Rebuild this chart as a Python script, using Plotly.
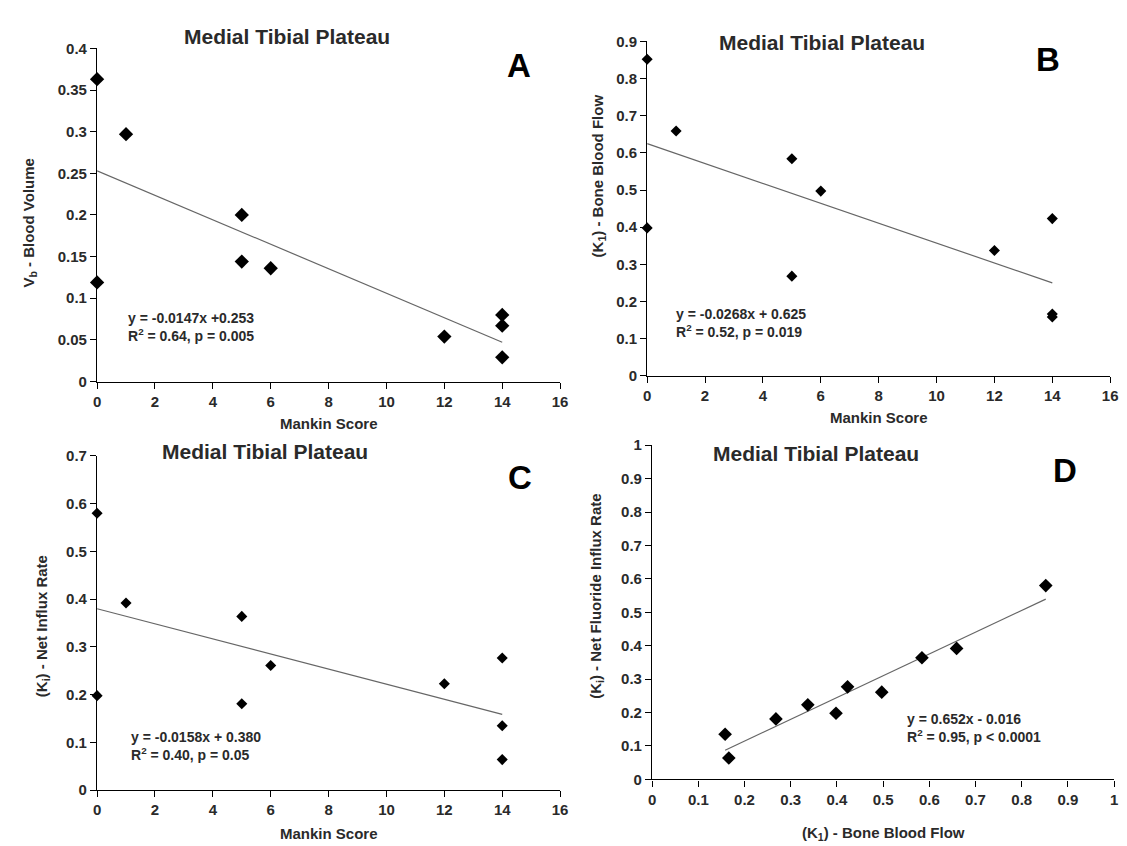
import plotly.graph_objects as go

# ---- data ----
mankin = [0, 0, 1, 5, 5, 6, 12, 14, 14, 14]
vb = [0.363, 0.119, 0.297, 0.200, 0.144, 0.136, 0.054, 0.080, 0.067, 0.029]
k1 = [0.852, 0.398, 0.659, 0.584, 0.268, 0.497, 0.337, 0.423, 0.158, 0.166]
ki = [0.580, 0.198, 0.392, 0.364, 0.181, 0.261, 0.223, 0.277, 0.135, 0.064]

fit_a = (-0.0147, 0.253)
fit_b = (-0.0268, 0.625)
fit_c = (-0.0158, 0.380)
fit_d = (0.652, -0.016)

eq_a = "y = -0.0147x +0.253<br>R<sup>2</sup> = 0.64, p = 0.005"
eq_b = "y = -0.0268x + 0.625<br>R<sup>2</sup> = 0.52, p = 0.019"
eq_c = "y = -0.0158x + 0.380<br>R<sup>2</sup> = 0.40, p = 0.05"
eq_d = "y = 0.652x - 0.016<br>R<sup>2</sup> = 0.95, p < 0.0001"

panel_title = "Medial Tibial Plateau"
ytitles = ["V<sub>b</sub> - Blood Volume", "(K<sub>1</sub>) - Bone Blood Flow",
           "(K<sub>i</sub>) - Net Influx Rate", "(K<sub>i</sub>) - Net Fluoride Influx Rate"]
xtitles = ["Mankin Score", "Mankin Score", "Mankin Score", "(K<sub>1</sub>) - Bone Blood Flow"]
letters = ["A", "B", "C", "D"]

W, H = 1127, 846
FONT = "Liberation Sans, Arial, sans-serif"
TXT = "#2a2a2a"

# panel boxes in pixels: (x0, x1, ytop, ybottom)
boxes = [(86, 554, 32, 372), (642, 1110, 25, 366), (86, 554, 448, 789), (647, 1114, 437, 778)]
xranges = [[0, 16], [0, 16], [0, 16], [0, 1]]
yranges = [[0, 0.4], [0, 0.9], [0, 0.7], [0, 1]]
xdt = [2, 2, 2, 0.1]
ydt = [0.05, 0.1, 0.1, 0.1]
msize = [11, 8.5, 8.5, 10.5]

xs = [mankin, mankin, mankin, k1]
ys = [vb, k1, ki, ki]
fits = [fit_a, fit_b, fit_c, fit_d]
eqs = [eq_a, eq_b, eq_c, eq_d]
eq_pos = [(1.0, 0.066), (0.92, 0.142), (1.1, 0.093), (0.548, 0.155)]
title_pos = [(278, 20), (819, 26), (256, 443), (813, 445)]
letter_pos = [(512, 50), (1047, 43), (513, 470), (1064, 463)]
ytitle_pos = [(18, 210), (593, 162), (31, 622), (590, 591)]
xtitle_y = [415, 409, 833, 833]

fig = go.Figure()
annotations = []
for i in range(4):
    n = "" if i == 0 else str(i + 1)
    xa, ya = "x" + n, "y" + n
    x0, x1, yt, yb = boxes[i]
    axis_common = dict(showline=True, linecolor="black", linewidth=1.3, ticks="outside",
                       ticklen=6, tickwidth=1.3, tickcolor="black", showgrid=False,
                       zeroline=False, tick0=0,
                       tickfont=dict(family=FONT, size=15, color=TXT, weight="bold"))
    fig.update_layout(**{
        "xaxis" + n: dict(domain=[x0 / W, x1 / W], range=xranges[i], dtick=xdt[i],
                          anchor=ya, **axis_common),
        "yaxis" + n: dict(domain=[1 - yb / H, 1 - yt / H], range=yranges[i], dtick=ydt[i],
                          anchor=xa, **axis_common),
    })
    # trend line from the fitted coefficients
    lx = [min(xs[i]), max(xs[i])]
    ly = [fits[i][0] * v + fits[i][1] for v in lx]
    fig.add_trace(go.Scatter(x=lx, y=ly, mode="lines", xaxis=xa, yaxis=ya,
                             line=dict(color="#666666", width=1.2), showlegend=False,
                             hoverinfo="skip"))
    fig.add_trace(go.Scatter(x=xs[i], y=ys[i], mode="markers", xaxis=xa, yaxis=ya,
                             marker=dict(symbol="diamond", size=msize[i], color="black"),
                             cliponaxis=False, showlegend=False))
    annotations.append(dict(x=eq_pos[i][0], y=eq_pos[i][1], xref=xa, yref=ya, text=eqs[i],
                            showarrow=False, xanchor="left", yanchor="middle", align="left",
                            font=dict(family=FONT, size=14, color=TXT, weight="bold")))
    annotations.append(dict(x=title_pos[i][0] / W, y=1 - title_pos[i][1] / H, xref="paper",
                            yref="paper", text=panel_title, showarrow=False,
                            xanchor="center", yanchor="middle",
                            font=dict(family=FONT, size=21, color=TXT, weight="bold")))
    annotations.append(dict(x=letter_pos[i][0] / W, y=1 - letter_pos[i][1] / H, xref="paper",
                            yref="paper", text=letters[i], showarrow=False,
                            xanchor="center", yanchor="middle",
                            font=dict(family=FONT, size=33, color="black", weight="bold")))
    annotations.append(dict(x=ytitle_pos[i][0] / W, y=1 - ytitle_pos[i][1] / H, xref="paper",
                            yref="paper", text=ytitles[i], textangle=-90, showarrow=False,
                            xanchor="center", yanchor="middle",
                            font=dict(family=FONT, size=15, color=TXT, weight="bold")))
    annotations.append(dict(x=(x0 + x1) / 2 / W, y=1 - xtitle_y[i] / H, xref="paper",
                            yref="paper", text=xtitles[i], showarrow=False,
                            xanchor="center", yanchor="middle",
                            font=dict(family=FONT, size=15, color=TXT, weight="bold")))

fig.update_layout(width=W, height=H, margin=dict(l=0, r=0, t=0, b=0),
                  paper_bgcolor="white", plot_bgcolor="white", annotations=annotations)
fig.write_html("out.html")
